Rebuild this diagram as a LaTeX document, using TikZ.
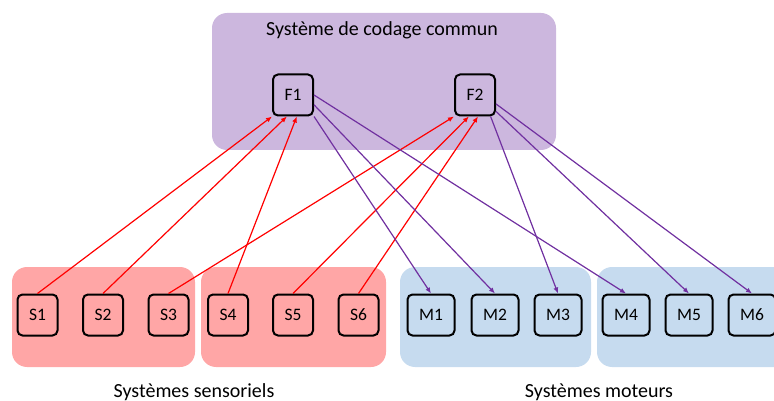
\documentclass[tikz,border=0pt]{standalone}
\usepackage{fontspec}
\setmainfont{Carlito}
\usepackage{tikz}
\usetikzlibrary{arrows.meta}
\definecolor{codage}{RGB}{204,183,222}
\definecolor{sensoriel}{RGB}{255,166,166}
\definecolor{moteur}{RGB}{198,219,239}
\definecolor{violet}{RGB}{112,48,160}

\begin{document}
\begin{tikzpicture}[x=1pt,y=-1pt]
	\tikzset{vertex/.style = {shape=rectangle,draw,line width=2pt,rounded corners=5pt,minimum width=40pt,minimum height=41pt,inner sep=0pt,font=\fontsize{17.5}{20}\selectfont}}
	\tikzset{widevertex/.style = {vertex,minimum width=47pt}}
	\tikzset{group/.style = {rounded corners=15pt}}
	\tikzset{title/.style = {font=\fontsize{20}{23}\selectfont}}
	\tikzset{sedge/.style = {-{Latex[length=6pt,width=5pt]},red,line width=1.2pt}}
	\tikzset{medge/.style = {-{Latex[length=6pt,width=5pt]},violet,line width=1.2pt}}
	\useasboundingbox (0,0) rectangle (774,401);
	% groups
	\fill[codage,group] (212,13) rectangle (556,150);
	\fill[sensoriel,group] (12,267) rectangle (195,367);
	\fill[sensoriel,group] (201,267) rectangle (386,367);
	\fill[moteur,group] (400,267) rectangle (591,367);
	\fill[moteur,group] (597,267) rectangle (800,367);
	% texts
	\node[title] (commun) at (382,30) {Système de codage commun};
	\node[title] (sens) at (194,392) {Systèmes sensoriels};
	\node[title] (mot) at (599,392) {Systèmes moteurs};
	% vertices
	\node[vertex] (F1) at (293,95) {F1};
	\node[vertex] (F2) at (475,95) {F2};
	\node[vertex] (S1) at (37.5,315) {S1};
	\node[vertex] (S2) at (103,315) {S2};
	\node[vertex] (S3) at (168.5,315) {S3};
	\node[vertex] (S4) at (228,315) {S4};
	\node[vertex] (S5) at (293,315) {S5};
	\node[vertex] (S6) at (358.5,315) {S6};
	\node[widevertex] (M1) at (431,315) {M1};
	\node[widevertex] (M2) at (495,315) {M2};
	\node[widevertex] (M3) at (558,315) {M3};
	\node[widevertex] (M4) at (626,315) {M4};
	\node[widevertex] (M5) at (689,315) {M5};
	\node[widevertex] (M6) at (752,315) {M6};
	% edges
	\draw[sedge] (S1.north) -- (F1.south west);
	\draw[sedge] (S2.north) -- (F1.-106);
	\draw[sedge] (S4.north) -- (F1.-80);
	\draw[sedge] (S3.north) -- (F2.south west);
	\draw[sedge] (S5.north) -- (F2.-106);
	\draw[sedge] (S6.north) -- (F2.-82);
	\draw[medge] (F1.south east) -- (M1.north);
	\draw[medge] (F1.-25) -- (M2.north);
	\draw[medge] (F1.east) -- (M4.north);
	\draw[medge] (F2.-54) -- (M3.north);
	\draw[medge] (F2.-38) -- (M5.north);
	\draw[medge] (F2.-23) -- (M6.north);
\end{tikzpicture}
\end{document}
